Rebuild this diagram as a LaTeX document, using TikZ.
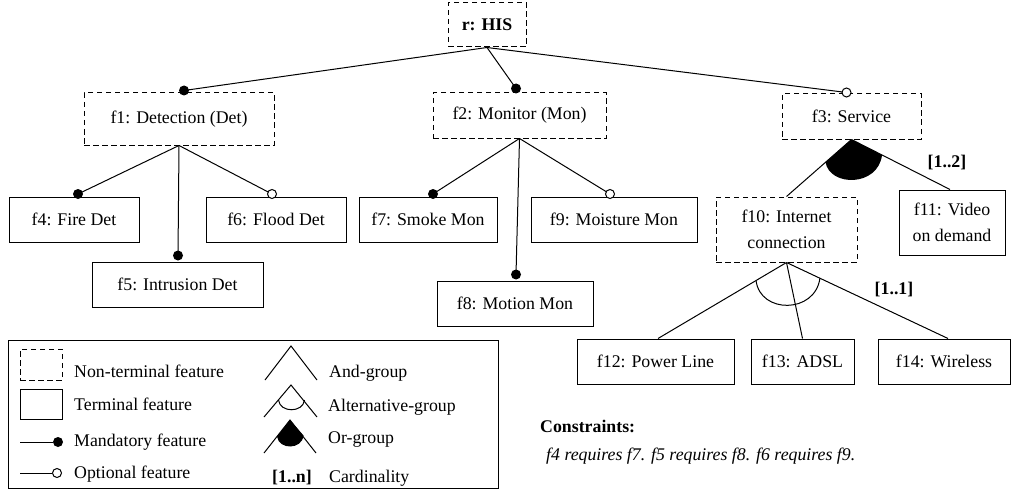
\documentclass[tikz,border=0pt]{standalone}
\usepackage{fontspec}
\setmainfont{Liberation Serif}
\usetikzlibrary{calc}
\begin{document}
\begin{tikzpicture}[x=1pt,y=-1pt,
  every node/.style={font=\fontsize{17.8pt}{26pt}\selectfont},
  ln/.style={line width=1pt},
  nt/.style={draw, dash pattern=on 5.5pt off 3.5pt, line width=1pt, inner sep=0pt, align=center, minimum height=45pt},
  tm/.style={draw, line width=1pt, inner sep=0pt, align=center, minimum height=45pt},
  mand/.style={circle, fill=black, inner sep=0pt, minimum size=10pt},
  opt/.style={circle, draw, fill=white, line width=1pt, inner sep=0pt, minimum size=9pt},
  lab/.style={font=\fontsize{17.8pt}{21pt}\selectfont\bfseries},
  txt/.style={anchor=base west, inner sep=0pt}
]
\useasboundingbox (0,0) rectangle (1011,492);

% feature nodes
\node[nt, minimum width=78pt, minimum height=44pt, lab] (r) at (487,25) {r: HIS};
\node[nt, minimum width=190pt, minimum height=52pt] (f1) at (179,119) {f1: Detection (Det)};
\node[nt, minimum width=173pt] (f2) at (519.5,115.5) {f2: Monitor (Mon)};
\node[nt, minimum width=139pt] (f3) at (851.5,116.5) {f3: Service};
\node[tm, minimum width=130pt] (f4) at (74,219.5) {f4: Fire Det};
\node[tm, minimum width=171pt] (f5) at (177.5,284.5) {f5: Intrusion Det};
\node[tm, minimum width=140pt] (f6) at (276,219.5) {f6: Flood Det};
\node[tm, minimum width=138pt] (f7) at (428,219.5) {f7: Smoke Mon};
\node[tm, minimum width=156pt] (f8) at (515,303.5) {f8: Motion Mon};
\node[tm, minimum width=166pt] (f9) at (614,219.5) {f9: Moisture Mon};
\node[nt, minimum width=141pt, minimum height=65pt] (f10) at (786.5,229.5) {f10: Internet\\connection};
\node[tm, minimum width=106pt, minimum height=65pt] (f11) at (952,222.5) {f11: Video\\on demand};
\node[tm, minimum width=157pt] (f12) at (655.5,361.5) {f12: Power Line};
\node[tm, minimum width=103pt] (f13) at (802.5,361.5) {f13: ADSL};
\node[tm, minimum width=132pt] (f14) at (944,361.5) {f14: Wireless};

% connectors from root
\draw[ln] (r.south) -- ([xshift=5pt,yshift=2pt]f1.north) node[mand] (d1) {};
\draw[ln] (r.south) -- ([xshift=-3.5pt,yshift=4pt]f2.north) node[mand] (d2) {};
\draw[ln] (r.south) -- ([xshift=-5pt,yshift=1pt]f3.north) node[opt] (d3) {};
% detection
\draw[ln] (f1.south) -- ([xshift=4pt,yshift=2.5pt]f4.north) node[mand] (d4) {};
\draw[ln] (f1.south) -- ([xshift=0.5pt,yshift=6pt]f5.north) node[mand] (d5) {};
\draw[ln] (f1.south) -- ([xshift=-4pt,yshift=2.5pt]f6.north) node[opt] (d6) {};
% monitor
\draw[ln] (f2.south) -- ([xshift=5pt,yshift=2.5pt]f7.north) node[mand] (d7) {};
\draw[ln] (f2.south) -- ([xshift=1pt,yshift=6pt]f8.north) node[mand] (d8) {};
\draw[ln] (f2.south) -- ([xshift=-4pt,yshift=2.5pt]f9.north) node[opt] (d9) {};
% service or-group
\draw[ln] (f3.south) -- (f10.north);
\draw[ln] (f3.south) -- ([xshift=-2pt]f11.north);
\fill (f3.south) -- ($(f3.south)!0.4!(f10.north)$) .. controls (830,187) and (878,187) .. ($(f3.south)!0.31!([xshift=-2pt]f11.north)$) -- cycle;
\node[lab] (c12) at (947,163) {[1..2]};
% internet alternative-group
\draw[ln] (f10.south) -- ([xshift=2.5pt]f12.north);
\draw[ln] (f10.south) -- (f13.north);
\draw[ln] (f10.south) -- ([xshift=4pt]f14.north);
\draw[ln] ($(f10.south)!0.237!([xshift=2.5pt]f12.north)$) .. controls (760,314) and (815,314) .. ($(f10.south)!0.207!([xshift=4pt]f14.north)$);
\node[lab] (c11) at (894,290) {[1..1]};

% legend
\node[draw, line width=1pt, minimum width=490pt, minimum height=148pt, inner sep=0pt] (leg) at (253,414) {};
\node[nt, minimum width=42pt, minimum height=31pt] (lnt) at (41,364.5) {};
\node[tm, minimum width=42pt, minimum height=30pt] (ltm) at (41,404) {};
\coordinate (lm0) at (20,442);
\node[mand] (lm) at (58,442) {};
\draw[ln] (lm0) -- (lm);
\coordinate (lo0) at (20,473);
\node[opt] (lo) at (57,473) {};
\draw[ln] (lo0) -- (lo.west);
\node[txt] (tnt) at (74,377) {Non-terminal feature};
\node[txt] (ttm) at (74,410) {Terminal feature};
\node[txt] (tm) at (74,446) {Mandatory feature};
\node[txt] (to) at (74,478) {Optional feature};

\draw[ln] (265,380) -- (291,346) -- (317,380);
\draw[ln] (264,417) -- (291,385) -- (317,417);
\draw[ln] (278.5,400) .. controls (280,413) and (303,413) .. (304.5,400);
\draw[ln] (264,453) -- (290,420) -- (316,453);
\fill (290,420) -- (277,436.5) .. controls (279,450) and (302,450) .. (303.5,435.5) -- cycle;
\node[lab, anchor=base, inner sep=0pt] (tcn) at (292,482) {[1..n]};
\node[txt] (tand) at (329,377) {And-group};
\node[txt] (talt) at (328,411) {Alternative-group};
\node[txt] (tor) at (328,443) {Or-group};
\node[txt] (tcard) at (329,482) {Cardinality};

% constraints
\node[txt, lab] (cons) at (540,432) {Constraints:};
\node[txt, font=\fontsize{17.8pt}{21pt}\selectfont\itshape] (consl) at (546,460) {f4 requires f7. f5 requires f8. f6 requires f9.};
\end{tikzpicture}
\end{document}
